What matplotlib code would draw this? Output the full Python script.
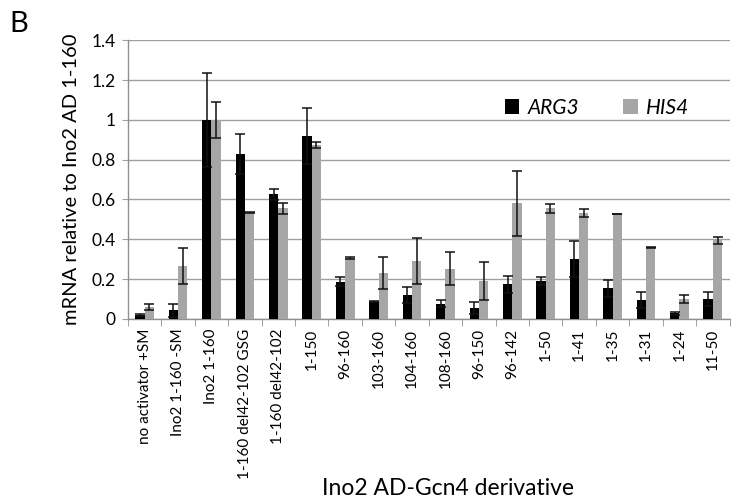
import numpy as np
import matplotlib
matplotlib.use("Agg")
import matplotlib.pyplot as plt
from matplotlib.ticker import FixedLocator

plt.rcParams['font.family'] = ['Lato', 'DejaVu Sans']

categories = ["no activator +SM", "Ino2 1-160 -SM", "Ino2 1-160",
              "1-160 del42-102 GSG", "1-160 del42-102", "1-150", "96-160",
              "103-160", "104-160", "108-160", "96-150", "96-142", "1-50",
              "1-41", "1-35", "1-31", "1-24", "11-50"]
arg3 = [0.02, 0.043, 1.0, 0.83, 0.626, 0.918, 0.187, 0.087, 0.118, 0.077,
        0.053, 0.173, 0.19, 0.30, 0.153, 0.097, 0.028, 0.10]
arg3_err = [0.003, 0.031, 0.235, 0.10, 0.027, 0.141, 0.023, 0.002, 0.04, 0.016,
            0.03, 0.044, 0.02, 0.09, 0.044, 0.04, 0.009, 0.037]
his4 = [0.062, 0.266, 1.0, 0.534, 0.556, 0.875, 0.305, 0.23, 0.29, 0.253,
        0.19, 0.58, 0.555, 0.53, 0.527, 0.36, 0.10, 0.395]
his4_err = [0.015, 0.092, 0.09, 0.002, 0.028, 0.015, 0.005, 0.08, 0.115, 0.082,
            0.097, 0.162, 0.022, 0.02, 0.002, 0.002, 0.018, 0.018]


def main():
    fig = plt.figure(figsize=(7.31, 5.03), dpi=100)
    ax = fig.add_axes([0.175, 0.366, 0.823, 0.554])

    x = np.arange(len(categories))
    w = 0.28
    ekw = dict(ecolor='#111111', elinewidth=1.1, capsize=3.5, capthick=1.1)
    ax.bar(x - w / 2, arg3, w, color='black', yerr=arg3_err,
           error_kw=ekw, label='ARG3', zorder=3)
    ax.bar(x + w / 2, his4, w, color='#a6a6a6', yerr=his4_err,
           error_kw=ekw, label='HIS4', zorder=3)

    ax.set_ylim(0, 1.4)
    ax.set_xlim(-0.5, len(categories) - 0.5)
    ax.set_yticks([0, 0.2, 0.4, 0.6, 0.8, 1.0, 1.2, 1.4])
    ax.set_yticklabels(['0', '0.2', '0.4', '0.6', '0.8', '1', '1.2', '1.4'],
                       fontsize=12.5)
    ax.yaxis.grid(True, color='#a0a0a0', linewidth=1.0, zorder=0)
    ax.tick_params(axis='y', length=4, color='#a0a0a0', pad=5)

    ax.set_xticks(x)
    ax.set_xticklabels(categories, rotation=90, fontsize=11)
    ax.tick_params(axis='x', length=0, pad=7)
    ax.xaxis.set_minor_locator(FixedLocator(np.arange(-0.5, len(categories), 1.0)))
    ax.tick_params(axis='x', which='minor', length=5, color='#909090',
                   direction='out')

    for s in ['top', 'right']:
        ax.spines[s].set_visible(False)
    for s in ['left', 'bottom']:
        ax.spines[s].set_color('#909090')
        ax.spines[s].set_linewidth(1.0)

    ax.set_ylabel('mRNA relative to Ino2 AD 1-160', fontsize=14.5, labelpad=8)
    fig.text(0.613, 0.008, 'Ino2 AD-Gcn4 derivative', fontsize=16.5,
             ha='center', va='bottom')

    leg = ax.legend(loc='upper left', bbox_to_anchor=(0.595, 0.86), ncol=2,
                    frameon=False, fontsize=15, handlelength=0.7,
                    handleheight=0.7, columnspacing=2.1, handletextpad=0.4)
    for t in leg.get_texts():
        t.set_fontstyle('italic')

    fig.text(0.013, 0.953, 'B', fontsize=21, ha='left', va='center')

    fig.savefig('out.png', dpi=100)


if __name__ == "__main__":
    main()
